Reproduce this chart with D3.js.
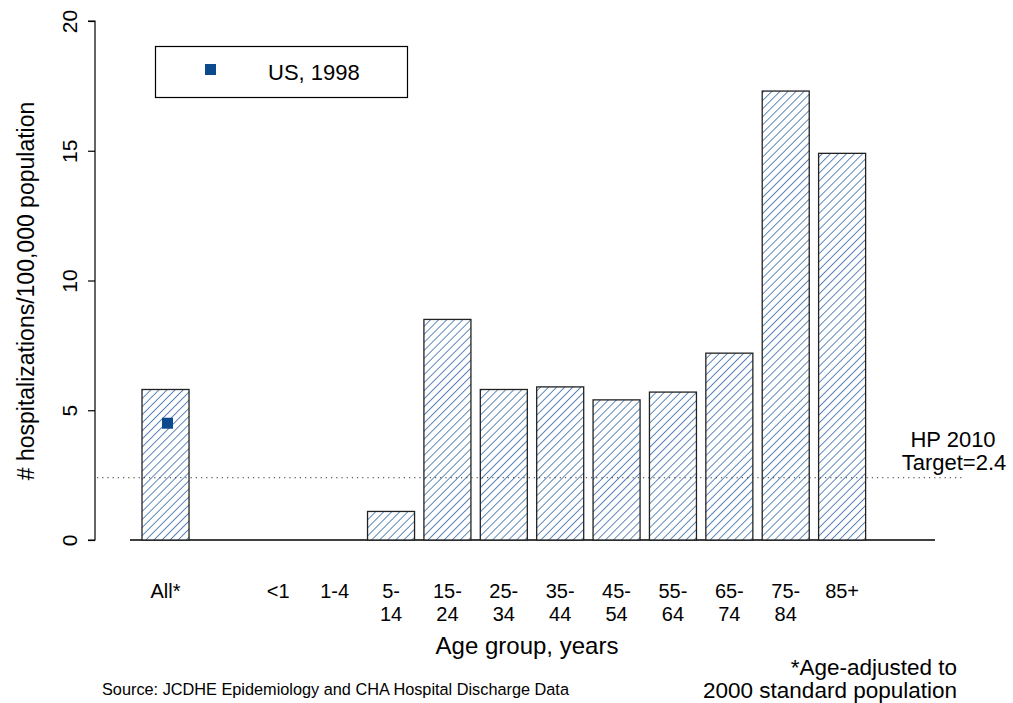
<!DOCTYPE html>
<html>
<head>
<meta charset="utf-8">
<script src="https://cdn.jsdelivr.net/npm/d3@7"></script>
<style>
  html, body { margin: 0; padding: 0; background: #fff; }
  text { font-family: "Liberation Sans", Arial, sans-serif; fill: #000; }
</style>
</head>
<body>
<svg id="chart" width="1013" height="703"></svg>
<script>
// Hospitalization rates by age group
const categories = ["All*", "", "<1", "1-4", "5-14", "15-24", "25-34", "35-44", "45-54", "55-64", "65-74", "75-84", "85+", " "];
const labelLines = [["All*"], [""], ["<1"], ["1-4"], ["5-", "14"], ["15-", "24"], ["25-", "34"], ["35-", "44"], ["45-", "54"], ["55-", "64"], ["65-", "74"], ["75-", "84"], ["85+"], [""]];
const rates = [5.8, null, 0, 0, 1.1, 8.5, 5.8, 5.9, 5.4, 5.7, 7.2, 17.3, 14.9, null];
const usCategory = "All*";
const usValue = 4.5;
const targetValue = 2.4;
const yTicks = [0, 5, 10, 15, 20];

const svg = d3.select("#chart");
const hatchColor = "#2b62a3";
const markColor = "#0b4a8c";

const x = d3.scaleBand().domain(categories).range([142, 922]).paddingInner(0.166).paddingOuter(0);
const y = d3.scaleLinear().domain([0, 20]).range([540, 21]);

// diagonal hatch fill
const hs = 5.7;
const defs = svg.append("defs");
const pat = defs.append("pattern")
  .attr("id", "hatch").attr("patternUnits", "userSpaceOnUse")
  .attr("width", hs).attr("height", hs)
  .attr("patternTransform", "rotate(45)");
pat.append("rect").attr("width", hs).attr("height", hs).attr("fill", "#fff");
pat.append("line").attr("x1", 0).attr("y1", 0).attr("x2", 0).attr("y2", hs)
  .attr("stroke", hatchColor).attr("stroke-width", 1.5);

// baseline
svg.append("line")
  .attr("x1", 130).attr("x2", 935)
  .attr("y1", y(0)).attr("y2", y(0))
  .attr("stroke", "#000").attr("stroke-width", 1.3);

// bars
const barData = categories.map((c, i) => ({ c, v: rates[i] })).filter(d => d.v !== null && d.v > 0);
svg.append("g").selectAll("rect").data(barData).join("rect")
  .attr("x", d => x(d.c))
  .attr("width", x.bandwidth())
  .attr("y", d => y(d.v))
  .attr("height", d => y(0) - y(d.v))
  .attr("fill", "url(#hatch)")
  .attr("stroke", "#222").attr("stroke-width", 1.3);

// target line
svg.append("line")
  .attr("x1", 97).attr("x2", 965)
  .attr("y1", y(targetValue)).attr("y2", y(targetValue))
  .attr("stroke", "#333").attr("stroke-width", 1)
  .attr("stroke-dasharray", "1.2,4");

svg.append("text").attr("x", 953).attr("y", 447)
  .attr("text-anchor", "middle").attr("font-size", 22).text("HP 2010");
svg.append("text").attr("x", 954).attr("y", 470)
  .attr("text-anchor", "middle").attr("font-size", 22).text("Target=2.4");

// US point
svg.append("rect")
  .attr("x", x(usCategory) + x.bandwidth() / 2 - 5.5 + 2)
  .attr("y", y(usValue) - 5.5)
  .attr("width", 11).attr("height", 11)
  .attr("fill", markColor);

// y axis
const yAxis = d3.axisLeft(y).tickValues(yTicks).tickSize(7).tickPadding(0).tickFormat(d3.format("d"));
const gy = svg.append("g").attr("transform", "translate(95,0)").call(yAxis);
gy.select(".domain").attr("d", "M-7," + y(20) + "H0V" + y(0) + "H-7").attr("stroke", "#000").attr("stroke-width", 1.2);
gy.selectAll(".tick line").attr("stroke", "#000").attr("stroke-width", 1.2);
gy.selectAll(".tick text")
  .attr("font-size", 21).attr("font-family", "Liberation Sans, Arial, sans-serif")
  .attr("fill", "#000")
  .attr("text-anchor", "middle")
  .attr("transform", "translate(-18,0) rotate(-90)")
  .attr("x", 0).attr("dy", 0);

svg.append("text")
  .attr("transform", "translate(34,291) rotate(-90)")
  .attr("text-anchor", "middle").attr("font-size", 23)
  .text("# hospitalizations/100,000 population");

// x category labels
const xl = svg.append("g");
categories.forEach((c, i) => {
  labelLines[i].forEach((ln, j) => {
    if (!ln) return;
    xl.append("text")
      .attr("x", x(c) + x.bandwidth() / 2)
      .attr("y", 598 + j * 23)
      .attr("text-anchor", "middle").attr("font-size", 20)
      .text(ln);
  });
});

svg.append("text").attr("x", 527).attr("y", 654)
  .attr("text-anchor", "middle").attr("font-size", 24)
  .text("Age group, years");

// legend
svg.append("rect").attr("x", 155.5).attr("y", 46.5).attr("width", 252).attr("height", 51)
  .attr("fill", "#fff").attr("stroke", "#000").attr("stroke-width", 1.2);
svg.append("rect").attr("x", 205).attr("y", 64).attr("width", 11).attr("height", 11).attr("fill", markColor);
svg.append("text").attr("x", 268).attr("y", 80).attr("font-size", 22).text("US, 1998");

// notes
svg.append("text").attr("x", 102).attr("y", 695).attr("font-size", 16.3)
  .text("Source: JCDHE Epidemiology and CHA Hospital Discharge Data");
svg.append("text").attr("x", 957).attr("y", 675).attr("text-anchor", "end").attr("font-size", 22.5)
  .text("*Age-adjusted to");
svg.append("text").attr("x", 957).attr("y", 698).attr("text-anchor", "end").attr("font-size", 22.5)
  .text("2000 standard population");
</script>
</body>
</html>
